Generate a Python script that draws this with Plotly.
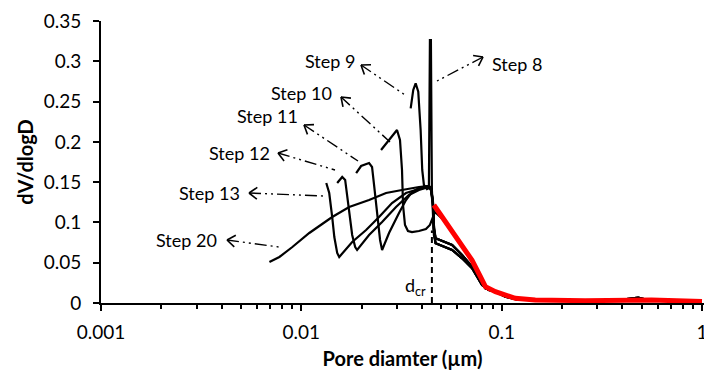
import math
import plotly.graph_objects as go

# ---------------- data ----------------
# shared tails of the curves beyond d_cr
tail_a_x = [0.04678, 0.05658, 0.06344, 0.07116, 0.07834, 0.08296, 0.09305, 0.10433, 0.12148,
            0.1528, 0.2416, 0.3821, 0.4805, 0.5385, 0.7596, 1.0]
tail_a_y = [0.0803, 0.0720, 0.0596, 0.0451, 0.0285, 0.0182, 0.0140, 0.0078, 0.0037,
            0.0037, 0.0031, 0.0037, 0.0068, 0.0037, 0.0031, 0.0019]
tail_b_x = [0.04678, 0.05658, 0.06344, 0.07116, 0.07980, 0.08616, 0.10035, 0.12148,
            0.1528, 0.2416, 0.3821, 0.5385, 1.0]
tail_b_y = [0.0741, 0.0658, 0.0555, 0.0431, 0.0223, 0.0161, 0.0120, 0.0046,
            0.0037, 0.0031, 0.0037, 0.0037, 0.0019]

step20_x = [0.00693, 0.00777, 0.00902, 0.01096, 0.01426, 0.01733, 0.02178, 0.02648, 0.03181,
            0.03865, 0.04333, 0.04434, 0.04537, 0.04589]
step20_y = [0.0509, 0.0571, 0.0695, 0.0869, 0.1067, 0.1192, 0.1278, 0.1365, 0.1403,
            0.1440, 0.1452, 0.1427, 0.1278, 0.0968]

step13_x = [0.01332, 0.01378, 0.01426, 0.01461, 0.01510, 0.01546, 0.01794, 0.02105, 0.02443,
            0.02836, 0.03330, 0.03865, 0.04333, 0.04434, 0.04537, 0.04589]
step13_y = [0.1489, 0.1365, 0.1067, 0.0819, 0.0621, 0.0571, 0.0757, 0.0906, 0.1067,
            0.1241, 0.1365, 0.1415, 0.1440, 0.1415, 0.1253, 0.0931]

step12_x = [0.01510, 0.01600, 0.01655, 0.01694, 0.01733, 0.01794, 0.01857, 0.01899, 0.02178,
            0.02530, 0.02969, 0.03446, 0.03865, 0.04333, 0.04434, 0.04537, 0.04589]
step12_y = [0.1489, 0.1564, 0.1527, 0.1340, 0.1092, 0.0844, 0.0695, 0.0658, 0.0844,
            0.1005, 0.1192, 0.1340, 0.1403, 0.1440, 0.1415, 0.1241, 0.0918]

step11_x = [0.01878, 0.01988, 0.02178, 0.02254, 0.02307, 0.02387, 0.02472, 0.02530, 0.02740,
            0.03073, 0.03330, 0.03567, 0.03865, 0.04333, 0.04434, 0.04537, 0.04589]
step11_y = [0.1613, 0.1700, 0.1738, 0.1688, 0.1465, 0.1092, 0.0782, 0.0658, 0.0869,
            0.1117, 0.1278, 0.1378, 0.1427, 0.1452, 0.1427, 0.1266, 0.0906]

step10_x = [0.02500, 0.02740, 0.03003, 0.03108, 0.03181, 0.03218, 0.03292, 0.03406, 0.03567,
            0.03865, 0.04188, 0.04384, 0.04537, 0.04642,
            0.05246, 0.06110, 0.07116, 0.07834, 0.08296, 0.09305, 0.11698, 0.14714, 0.2609, 0.5596, 1.0]
step10_y = [0.1899, 0.2023, 0.2147, 0.2023, 0.1651, 0.1216, 0.0968, 0.0894, 0.0881,
            0.0894, 0.0918, 0.0968, 0.1055, 0.1129,
            0.1009, 0.0782, 0.0530, 0.0327, 0.0203, 0.0140, 0.0058, 0.0037, 0.0029, 0.0037, 0.0019]

step9_x = [0.03514, 0.03620, 0.03721, 0.03834, 0.03940, 0.04013, 0.04092, 0.04236, 0.04333,
           0.04434, 0.04537, 0.04589]
step9_y = [0.2416, 0.2644, 0.2727, 0.2623, 0.2147, 0.1651, 0.1465, 0.1415, 0.1427,
           0.1403, 0.1216, 0.0881]

step8_x = [0.04236, 0.04333, 0.04384, 0.04434, 0.04485, 0.04537, 0.04589]
step8_y = [0.1415, 0.1440, 0.3264, 0.3264, 0.1403, 0.1092, 0.0844]

red_x = [0.04589, 0.05246, 0.06110, 0.07116, 0.07834, 0.08296, 0.09305, 0.11698, 0.14714,
         0.2609, 0.5596, 1.0]
red_y = [0.1216, 0.1009, 0.0782, 0.0530, 0.0327, 0.0203, 0.0140, 0.0058, 0.0037,
         0.0029, 0.0037, 0.0019]

dcr_x = 0.04485
dcr_top = 0.09

x_tickvals = [0.001, 0.01, 0.1, 1]
x_ticktext = ["0.001", "0.01", "0.1", "1"]
y_tickvals = [0, 0.05, 0.1, 0.15, 0.2, 0.25, 0.3, 0.35]
y_ticktext = ["0", "0.05", "0.1", "0.15", "0.2", "0.25", "0.3", "0.35"]

# ---------------- figure ----------------
FONT = "Lato"
W, H = 704, 377
L, R, T, B = 101, 0, 21, 74
PW, PH = W - L - R, H - T - B


def px(xp):
    return (xp - L) / PW


def py(yp):
    return (H - B - yp) / PH


fig = go.Figure()

black = dict(color="black", width=2.2)
curves = [
    (step20_x + tail_a_x, step20_y + tail_a_y),
    (step13_x + tail_a_x, step13_y + tail_a_y),
    (step12_x + tail_a_x, step12_y + tail_a_y),
    (step11_x + tail_b_x, step11_y + tail_b_y),
    (step10_x, step10_y),
    (step9_x + tail_b_x, step9_y + tail_b_y),
    (step8_x + tail_b_x, step8_y + tail_b_y),
]
for cx, cy in curves:
    fig.add_trace(go.Scatter(x=cx, y=cy, mode="lines", line=black, showlegend=False,
                             hoverinfo="skip"))

fig.add_trace(go.Scatter(x=red_x, y=red_y, mode="lines",
                         line=dict(color="#ff0000", width=5), showlegend=False,
                         hoverinfo="skip"))

fig.add_trace(go.Scatter(x=[dcr_x, dcr_x], y=[0, dcr_top], mode="lines",
                         line=dict(color="black", width=2, dash="6px,4px"),
                         showlegend=False, hoverinfo="skip"))

# annotations: (text, text centre px, arrow head px, arrow tail px)
labels = [
    ("Step 9", (330, 61), (361, 65), (405, 95)),
    ("Step 10", (301, 93), (341, 97), (390, 142)),
    ("Step 11", (267, 116), (304, 125), (358, 161)),
    ("Step 12", (239, 153), (278, 153), (335, 170)),
    ("Step 13", (209, 193), (249, 193), (324, 196)),
    ("Step 20", (186, 240), (227, 240), (279, 247)),
    ("Step 8", (517, 64), (483, 57), (437, 81)),
]
shapes = []
annotations = []
ARM, ANG = 10, math.radians(36)
for text, (tx, ty), (hx, hy), (sx, sy) in labels:
    annotations.append(dict(text=text, x=px(tx), y=py(ty), xref="paper", yref="paper",
                            showarrow=False, font=dict(family=FONT, size=18, color="black"),
                            xanchor="center", yanchor="middle"))
    shapes.append(dict(type="line", xref="paper", yref="paper",
                       x0=px(hx), y0=py(hy), x1=px(sx), y1=py(sy),
                       line=dict(color="black", width=1.4,
                                 dash="12px,4px,2px,4px,2px,4px")))
    dx, dy = sx - hx, sy - hy
    n = math.hypot(dx, dy)
    ux, uy = dx / n, dy / n
    for s in (1, -1):
        c, si = math.cos(ANG), math.sin(s * ANG)
        ex = hx + ARM * (ux * c - uy * si)
        ey = hy + ARM * (ux * si + uy * c)
        shapes.append(dict(type="line", xref="paper", yref="paper",
                           x0=px(hx), y0=py(hy), x1=px(ex), y1=py(ey),
                           line=dict(color="black", width=1.6)))

annotations.append(dict(text="d<sub>cr</sub>", x=px(428), y=py(286), xref="paper", yref="paper",
                        showarrow=False, xanchor="right", yanchor="middle",
                        font=dict(family=FONT, size=18, color="black")))

fig.update_layout(
    width=W, height=H,
    margin=dict(l=L, r=R, t=T, b=B, autoexpand=False),
    paper_bgcolor="white", plot_bgcolor="white",
    font=dict(family=FONT, size=18, color="black"),
    shapes=shapes, annotations=annotations,
    xaxis=dict(type="log", range=[-3, 0.01], showgrid=False, zeroline=False,
               showline=True, linecolor="black", linewidth=2,
               ticks="outside", ticklen=6, tickwidth=1.5, tickcolor="black",
               tickvals=x_tickvals, ticktext=x_ticktext, ticklabeloverflow="allow",
               tickfont=dict(family=FONT, size=19), ticklabelstandoff=5,
               minor=dict(ticks="outside", ticklen=4, tickwidth=1.5, tickcolor="black",
                          showgrid=False,
                          tickvals=[m * 10 ** e for e in (-3, -2, -1) for m in range(2, 10)]),
               title=dict(text="<b>Pore diamter (µm)</b>", standoff=10,
                          font=dict(family=FONT, size=20))),
    yaxis=dict(range=[0, 0.35], showgrid=False, zeroline=False,
               showline=True, linecolor="black", linewidth=2,
               ticks="outside", ticklen=6, tickwidth=1.5, tickcolor="black",
               tickvals=y_tickvals, ticktext=y_ticktext,
               tickfont=dict(family=FONT, size=19), ticklabelstandoff=8,
               title=dict(text="<b>dV/dlogD</b>", standoff=5,
                          font=dict(family=FONT, size=20))),
)

fig.write_html("out.html",
               config={"displayModeBar": False},
               post_script="document.body.style.margin='0';"
                           "document.body.style.overflow='hidden';")
